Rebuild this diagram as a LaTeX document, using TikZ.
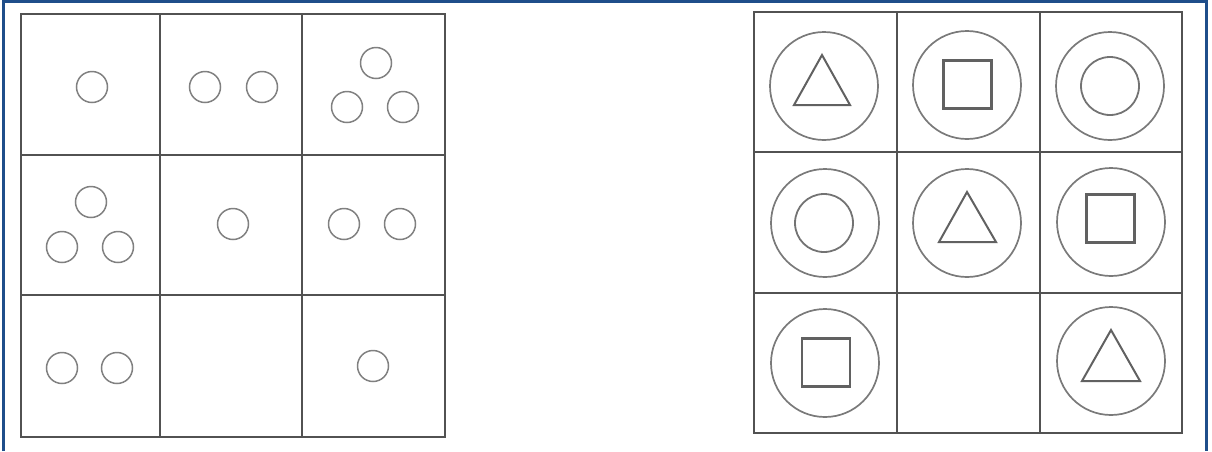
\documentclass[tikz,border=0pt]{standalone}
\definecolor{frameblue}{HTML}{1F4E8A}
\begin{document}
\begin{tikzpicture}[x=1pt,y=-1pt,
  gridline/.style={draw=black!68, line width=1.7pt},
  dot/.style={circle, draw=black!50, line width=1.5pt, minimum size=31pt, inner sep=0pt},
  ring/.style={circle, draw=black!52, line width=1.7pt, minimum size=108pt, inner sep=0pt},
  inring/.style={circle, draw=black!55, line width=1.8pt, minimum size=58pt, inner sep=0pt},
  sq/.style={rectangle, draw=black!62, line width=2.1pt, minimum size=48pt, inner sep=0pt},
  tri/.style={draw=black!62, line width=2pt, line join=miter}]
\useasboundingbox (0,0) rectangle (1212,451);
% outer frame
\draw[frameblue, line width=2.6pt] (3.5,451) -- (3.5,1.5) -- (1206.5,1.5) -- (1206.5,451);
% left grid
\draw[gridline] (21,14) rectangle (445,437);
\draw[gridline] (160,14) -- (160,437);
\draw[gridline] (302,14) -- (302,437);
\draw[gridline] (21,155) -- (445,155);
\draw[gridline] (21,295) -- (445,295);
% left grid dots
\node[dot] (a11) at (92,87) {};
\node[dot] (a12a) at (205,87) {};
\node[dot] (a12b) at (262,87) {};
\node[dot] (a13a) at (376,63) {};
\node[dot] (a13b) at (347,107) {};
\node[dot] (a13c) at (403,107) {};
\node[dot] (a21a) at (91,202) {};
\node[dot] (a21b) at (62,247) {};
\node[dot] (a21c) at (118,247) {};
\node[dot] (a22) at (233,224) {};
\node[dot] (a23a) at (344,224) {};
\node[dot] (a23b) at (400,224) {};
\node[dot] (a31a) at (62,368) {};
\node[dot] (a31b) at (117,368) {};
\node[dot] (a33) at (373,366) {};
% right grid
\draw[gridline] (754,12) rectangle (1182,433);
\draw[gridline] (897,12) -- (897,433);
\draw[gridline] (1040,12) -- (1040,433);
\draw[gridline] (754,152) -- (1182,152);
\draw[gridline] (754,293) -- (1182,293);
% rings
\node[ring] (b11) at (824,86) {};
\node[ring] (b12) at (967,85) {};
\node[ring] (b13) at (1110,86) {};
\node[ring] (b21) at (825,223) {};
\node[ring] (b22) at (967,223) {};
\node[ring] (b23) at (1111,222) {};
\node[ring] (b31) at (825,363) {};
\node[ring] (b33) at (1111,361) {};
% inner shapes
\draw[tri] (822,55) -- (850,105) -- (794,105) -- cycle;
\node[sq] (s12) at (967.5,84.5) {};
\node[inring] (c13) at (1110,86) {};
\node[inring] (c21) at (824,223) {};
\draw[tri] (967,192) -- (996,242) -- (939,242) -- cycle;
\node[sq] (s23) at (1110.5,218.5) {};
\node[sq] (s31) at (826,362.5) {};
\draw[tri] (1111,330) -- (1140,381) -- (1082,381) -- cycle;
\end{tikzpicture}
\end{document}
